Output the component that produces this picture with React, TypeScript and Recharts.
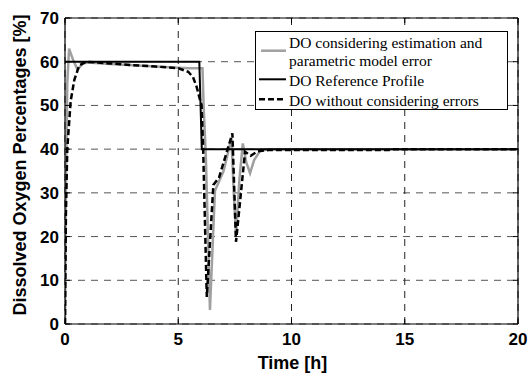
import React from 'react';
import { LineChart, Line, XAxis, YAxis, CartesianGrid, Legend } from 'recharts';

const xTicks = [0, 5, 10, 15, 20];
const yTicks = [0, 10, 20, 30, 40, 50, 60, 70];

const refTime = [0, 5.93, 6.04, 20];
const refValue = [60, 60, 40, 40];

const estTime = [0, 0.04, 0.1, 0.18, 0.35, 0.55, 0.8, 1.0, 2, 3, 4, 5, 5.5, 6.07, 6.12, 6.22, 6.4, 6.62, 7.0, 7.35, 7.45, 7.55, 7.7, 7.85, 8.0, 8.17, 8.35, 8.6, 9.0, 20];
const estValue = [0, 30, 55, 63, 60.5, 58.2, 59.6, 59.8, 59.5, 59.2, 58.9, 58.6, 58.5, 58.5, 50, 38, 3.2, 30.5, 35, 42.5, 30, 20.5, 33, 41.3, 37, 34.5, 37.5, 39.5, 40, 40];

const noErrTime = [0, 0.04, 0.1, 0.25, 0.41, 0.63, 0.93, 2, 3, 4, 5, 5.44, 5.65, 5.81, 5.95, 6.03, 6.1, 6.26, 6.55, 6.8, 7.39, 7.55, 7.95, 8.2, 8.5, 9, 14.3, 14.5, 20];
const noErrValue = [0, 25, 40, 51, 55.8, 59.2, 60, 59.6, 59.2, 58.9, 58.5, 57.7, 56.5, 54.3, 51.5, 50.1, 40, 6.2, 31.8, 33.5, 43.6, 18.8, 39.4, 38.5, 39.5, 39.8, 39.8, 40, 40];

const legendLabels = [
  'DO considering estimation and',
  'parametric model error',
  'DO Reference Profile',
  'DO without considering errors',
];

const zip = (ts: number[], vs: number[]) => ts.map((t, i) => ({ t, v: vs[i] }));
const refData = zip(refTime, refValue);
const estData = zip(estTime, estValue);
const noErrData = zip(noErrTime, noErrValue);

const SANS = '"Liberation Sans", Arial, sans-serif';
const SERIF = '"Liberation Serif", "Times New Roman", serif';

const BottomTick = (props: any) => {
  const { x, y, payload } = props;
  return (
    <g>
      <line x1={x} y1={y} x2={x} y2={y - 5} stroke="#000" strokeWidth={1} />
      <text x={x} y={y + 21} textAnchor="middle" fontFamily={SANS} fontWeight="bold" fontSize={17} fill="#000">
        {payload.value}
      </text>
    </g>
  );
};

const LeftTick = (props: any) => {
  const { x, y, payload } = props;
  return (
    <g>
      <line x1={x} y1={y} x2={x + 5} y2={y} stroke="#000" strokeWidth={1} />
      <text x={x - 6} y={y + 6} textAnchor="end" fontFamily={SANS} fontWeight="bold" fontSize={17} fill="#000">
        {payload.value}
      </text>
    </g>
  );
};

const TopTick = (props: any) => {
  const { x, y } = props;
  return <line x1={x} y1={y} x2={x} y2={y + 5} stroke="#000" strokeWidth={1} />;
};

const RightTick = (props: any) => {
  const { x, y } = props;
  return <line x1={x} y1={y} x2={x - 5} y2={y} stroke="#000" strokeWidth={1} />;
};

const LegendBox = () => (
  <svg width={254} height={80} style={{ display: 'block' }}>
    <rect x={0.5} y={0.5} width={252} height={78} fill="#fff" stroke="#000" strokeWidth={1} />
    <line x1={6} x2={31} y1={19.7} y2={19.7} stroke="#a0a0a0" strokeWidth={2.5} />
    <line x1={4} x2={31} y1={48.3} y2={48.3} stroke="#000" strokeWidth={2} />
    <line x1={4} x2={31} y1={68.3} y2={68.3} stroke="#000" strokeWidth={2.5} strokeDasharray="6 3" />
    {legendLabels.map((s, i) => (
      <text key={i} x={34} y={[17, 35, 55, 74.5][i]} fontFamily={SERIF} fontSize={15.5} fill="#000">
        {s}
      </text>
    ))}
  </svg>
);

export default function App() {
  return (
    <div style={{ position: 'absolute', left: 0, top: 0, width: 531, height: 375, background: '#fff' }}>
      <LineChart width={531} height={375} margin={{ top: 0, right: 0, bottom: 0, left: 0 }}>
        <CartesianGrid vertical={false} stroke="#555" strokeDasharray="7 6" />
        <CartesianGrid horizontal={false} stroke="#222" strokeDasharray="7 6" />
        <XAxis
          type="number"
          dataKey="t"
          domain={[0, 20]}
          ticks={xTicks}
          height={51}
          tickSize={0}
          tickMargin={0}
          tick={<BottomTick />}
          axisLine={{ stroke: '#000', strokeWidth: 1.2 }}
          allowDataOverflow
          label={{
            content: (p: any) => {
              const vb = p.viewBox || {};
              return (
                <text x={vb.x + vb.width / 2 + 1} y={369} textAnchor="middle" fontFamily={SANS} fontWeight="bold" fontSize={18} fill="#000">
                  Time [h]
                </text>
              );
            },
          }}
        />
        <XAxis
          xAxisId="top"
          orientation="top"
          type="number"
          dataKey="t"
          domain={[0, 20]}
          ticks={xTicks}
          height={18}
          tickSize={0}
          tickMargin={0}
          tick={<TopTick />}
          axisLine={{ stroke: '#000', strokeWidth: 1.2 }}
          allowDataOverflow
        />
        <YAxis
          type="number"
          domain={[0, 70]}
          ticks={yTicks}
          width={65}
          tickSize={0}
          tickMargin={0}
          tick={<LeftTick />}
          axisLine={{ stroke: '#000', strokeWidth: 1.2 }}
          allowDataOverflow
          label={{
            content: (p: any) => {
              const vb = p.viewBox || {};
              const cy = vb.y + vb.height / 2 - 6;
              return (
                <text x={26} y={cy} transform={`rotate(-90 26 ${cy})`} textAnchor="middle" fontFamily={SANS} fontWeight="bold" fontSize={18} fill="#000">
                  Dissolved Oxygen Percentages [%]
                </text>
              );
            },
          }}
        />
        <YAxis
          yAxisId="right"
          orientation="right"
          type="number"
          domain={[0, 70]}
          ticks={yTicks}
          width={13}
          tickSize={0}
          tickMargin={0}
          tick={<RightTick />}
          axisLine={{ stroke: '#000', strokeWidth: 1.2 }}
          allowDataOverflow
        />
        <Line data={estData} dataKey="v" type="linear" stroke="#a0a0a0" strokeWidth={2.5} dot={false} isAnimationActive={false} />
        <Line data={refData} dataKey="v" type="linear" stroke="#000" strokeWidth={2} dot={false} isAnimationActive={false} />
        <Line data={noErrData} dataKey="v" type="linear" stroke="#000" strokeWidth={2.5} strokeDasharray="6 3" dot={false} isAnimationActive={false} />
        <Legend
          layout="vertical"
          align="center"
          verticalAlign="middle"
          content={() => <LegendBox />}
          wrapperStyle={{ position: 'absolute', left: 255, top: 31, width: 254, height: 80 }}
        />
      </LineChart>
    </div>
  );
}
